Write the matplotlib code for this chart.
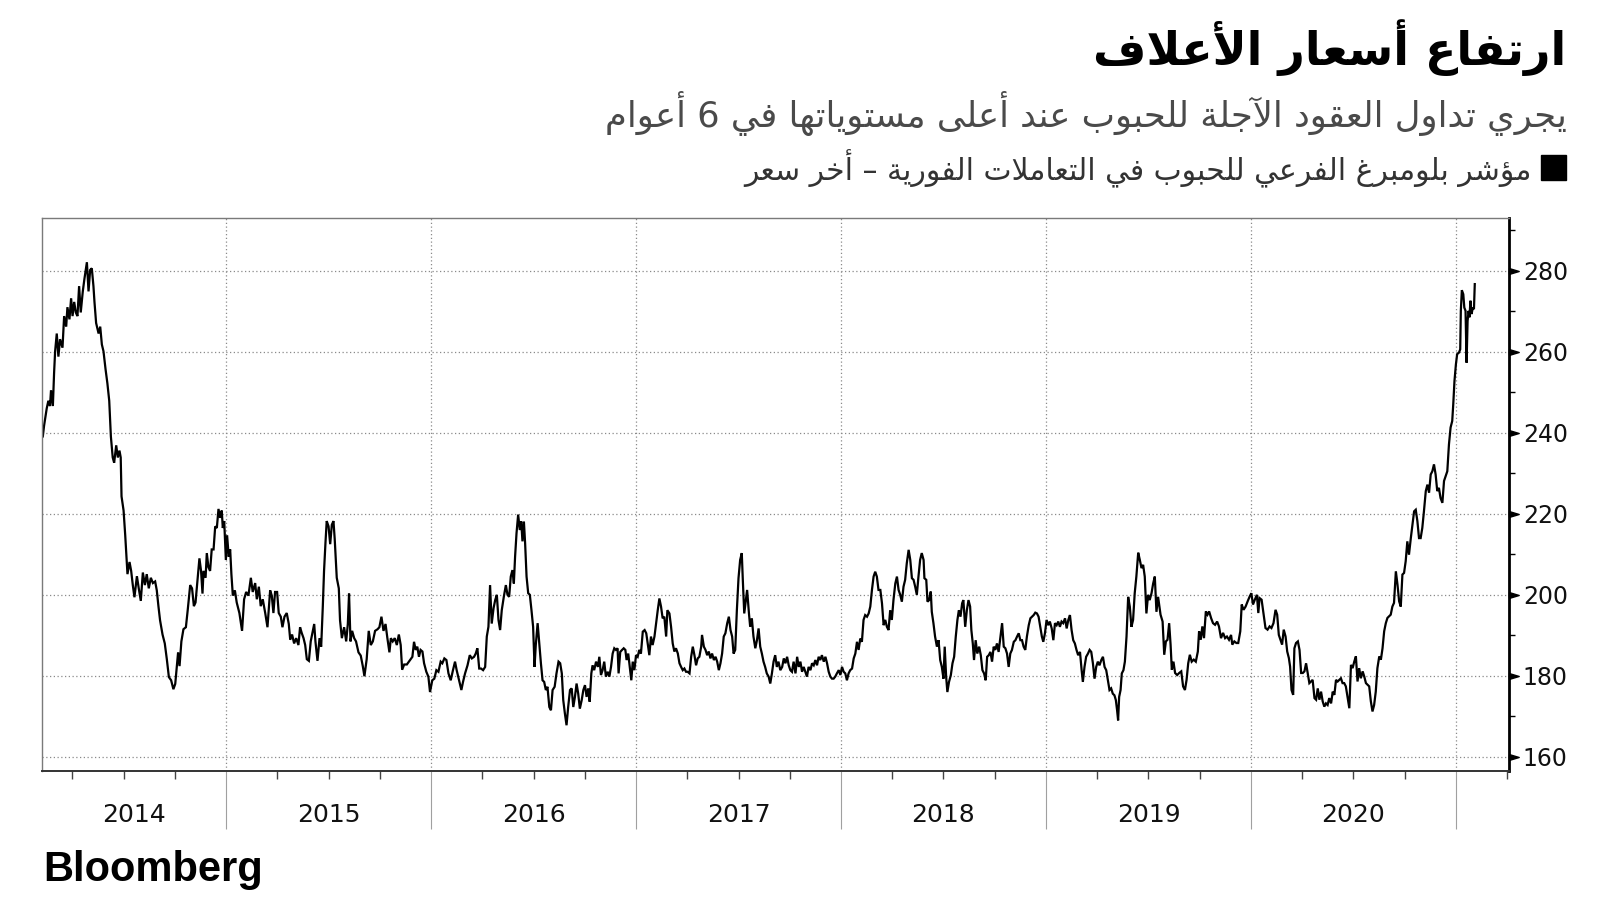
import numpy as np
import matplotlib
matplotlib.use('Agg')
import matplotlib.pyplot as plt
from matplotlib.patches import Rectangle
from matplotlib.ticker import MultipleLocator

plt.rcParams['font.family'] = ['DejaVu Sans']

# texts
title = 'ارتفاع أسعار الأعلاف'
subtitle = 'يجري تداول العقود الآجلة للحبوب عند أعلى مستوياتها في 6 أعوام'
legend_label = 'مؤشر بلومبرغ الفرعي للحبوب في التعاملات الفورية – أخر سعر'
source = 'Bloomberg'

year_labels = ['2014', '2015', '2016', '2017', '2018', '2019', '2020']
y_ticks = [160, 180, 200, 220, 240, 260, 280]

# Bloomberg grains spot subindex (decimal years)
dates = [
    2014.106, 2014.112, 2014.125, 2014.133, 2014.141, 2014.146, 2014.155, 2014.161, 2014.166, 2014.174,
    2014.182, 2014.190, 2014.202, 2014.210, 2014.220, 2014.226, 2014.236, 2014.244, 2014.251, 2014.259,
    2014.267, 2014.275, 2014.283, 2014.291, 2014.301, 2014.309, 2014.321, 2014.329, 2014.337, 2014.345,
    2014.353, 2014.358, 2014.366, 2014.378, 2014.386, 2014.394, 2014.402, 2014.412, 2014.421, 2014.430,
    2014.438, 2014.447, 2014.454, 2014.464, 2014.472, 2014.480, 2014.486, 2014.490, 2014.500, 2014.508,
    2014.519, 2014.529, 2014.537, 2014.545, 2014.553, 2014.565, 2014.574, 2014.584, 2014.594, 2014.604,
    2014.613, 2014.623, 2014.633, 2014.643, 2014.654, 2014.662, 2014.670, 2014.678, 2014.690, 2014.701,
    2014.711, 2014.721, 2014.732, 2014.743, 2014.752, 2014.760, 2014.766, 2014.773, 2014.782, 2014.792,
    2014.804, 2014.813, 2014.825, 2014.834, 2014.843, 2014.851, 2014.860, 2014.870, 2014.878, 2014.885,
    2014.890, 2014.900, 2014.906, 2014.914, 2014.922, 2014.930, 2014.939, 2014.947, 2014.955, 2014.963,
    2014.971, 2014.979, 2014.984, 2014.991, 2014.999, 2015.005, 2015.013, 2015.020, 2015.026, 2015.033,
    2015.043, 2015.052, 2015.065, 2015.078, 2015.088, 2015.098, 2015.109, 2015.121, 2015.130, 2015.142,
    2015.150, 2015.160, 2015.169, 2015.179, 2015.191, 2015.202, 2015.215, 2015.223, 2015.231, 2015.239,
    2015.249, 2015.257, 2015.267, 2015.275, 2015.285, 2015.296, 2015.306, 2015.313, 2015.322, 2015.332,
    2015.342, 2015.353, 2015.361, 2015.369, 2015.378, 2015.386, 2015.394, 2015.404, 2015.413, 2015.423,
    2015.430, 2015.436, 2015.446, 2015.456, 2015.464, 2015.472, 2015.478, 2015.485, 2015.491, 2015.500,
    2015.508, 2015.516, 2015.524, 2015.530, 2015.540, 2015.550, 2015.556, 2015.565, 2015.576, 2015.586,
    2015.594, 2015.600, 2015.607, 2015.615, 2015.625, 2015.634, 2015.646, 2015.657, 2015.667, 2015.675,
    2015.686, 2015.696, 2015.706, 2015.716, 2015.727, 2015.739, 2015.748, 2015.758, 2015.768, 2015.778,
    2015.787, 2015.797, 2015.804, 2015.813, 2015.823, 2015.833, 2015.843, 2015.852, 2015.859, 2015.869,
    2015.882, 2015.895,
    2015.909, 2015.917, 2015.925, 2015.933, 2015.941, 2015.949, 2015.958, 2015.966, 2015.977, 2015.987,
    2015.995, 2016.006, 2016.016, 2016.026, 2016.036, 2016.047, 2016.055, 2016.065, 2016.075, 2016.085,
    2016.096, 2016.107, 2016.117, 2016.125, 2016.137, 2016.148, 2016.156, 2016.166, 2016.178, 2016.189,
    2016.199, 2016.210, 2016.218, 2016.226, 2016.235, 2016.244, 2016.254, 2016.264, 2016.272, 2016.280,
    2016.288, 2016.296, 2016.305, 2016.313, 2016.321, 2016.329, 2016.337, 2016.345, 2016.355, 2016.365,
    2016.373, 2016.381, 2016.389, 2016.397, 2016.404, 2016.410, 2016.417, 2016.425, 2016.433, 2016.440,
    2016.446, 2016.453, 2016.459, 2016.466, 2016.474, 2016.482, 2016.490, 2016.498, 2016.505, 2016.511,
    2016.520, 2016.528, 2016.536, 2016.544, 2016.552, 2016.560, 2016.568, 2016.577, 2016.585, 2016.593,
    2016.603, 2016.612, 2016.622, 2016.630, 2016.638, 2016.645, 2016.653, 2016.661, 2016.669, 2016.678,
    2016.686, 2016.694, 2016.702, 2016.710, 2016.718, 2016.726, 2016.735, 2016.743, 2016.751, 2016.759,
    2016.767, 2016.774, 2016.782, 2016.788, 2016.796, 2016.805, 2016.814, 2016.821, 2016.829, 2016.837,
    2016.845, 2016.853, 2016.862, 2016.870, 2016.878, 2016.886, 2016.894, 2016.902, 2016.910, 2016.915,
    2016.923, 2016.932, 2016.940, 2016.948, 2016.954, 2016.962, 2016.971, 2016.977, 2016.984, 2016.992,
    2017.000, 2017.008, 2017.016, 2017.024, 2017.033, 2017.042, 2017.050, 2017.059, 2017.065, 2017.073,
    2017.081, 2017.090, 2017.098, 2017.106, 2017.114, 2017.122, 2017.130, 2017.138, 2017.147, 2017.153,
    2017.163, 2017.171, 2017.179, 2017.187, 2017.195, 2017.204, 2017.212, 2017.220, 2017.228, 2017.236,
    2017.244, 2017.252, 2017.261, 2017.269, 2017.277, 2017.285, 2017.293, 2017.301, 2017.309, 2017.318,
    2017.322, 2017.331, 2017.339, 2017.347, 2017.355, 2017.363, 2017.371, 2017.380, 2017.388, 2017.396,
    2017.404, 2017.412, 2017.420, 2017.428, 2017.436, 2017.445, 2017.453, 2017.461, 2017.469, 2017.476,
    2017.484, 2017.492, 2017.500, 2017.508, 2017.516, 2017.521, 2017.528, 2017.534, 2017.542, 2017.551,
    2017.557, 2017.565, 2017.573, 2017.582, 2017.590, 2017.598, 2017.606, 2017.614, 2017.622, 2017.630,
    2017.638, 2017.647, 2017.655, 2017.663, 2017.671, 2017.679, 2017.687, 2017.695, 2017.704,
    2017.713, 2017.721, 2017.729, 2017.737, 2017.745, 2017.753, 2017.761, 2017.769, 2017.778, 2017.786,
    2017.794, 2017.802, 2017.810, 2017.818, 2017.826, 2017.834, 2017.842, 2017.851, 2017.859, 2017.867,
    2017.875, 2017.883, 2017.891, 2017.899, 2017.907, 2017.916, 2017.924, 2017.932, 2017.940, 2017.948,
    2017.956, 2017.964, 2017.972, 2017.980, 2017.989, 2017.997, 2018.005, 2018.013, 2018.021, 2018.029,
    2018.037, 2018.045, 2018.054, 2018.062, 2018.070, 2018.078, 2018.086, 2018.094, 2018.102, 2018.110,
    2018.118, 2018.127, 2018.135, 2018.143, 2018.151, 2018.159, 2018.167, 2018.175, 2018.183, 2018.192,
    2018.200, 2018.208, 2018.216, 2018.224, 2018.232, 2018.240, 2018.248, 2018.256, 2018.265, 2018.273,
    2018.281, 2018.289, 2018.297, 2018.305, 2018.313, 2018.321, 2018.330, 2018.338, 2018.346, 2018.354,
    2018.362, 2018.370, 2018.378, 2018.386, 2018.394, 2018.403, 2018.407, 2018.416, 2018.422, 2018.430,
    2018.438, 2018.443, 2018.451, 2018.459, 2018.468, 2018.476, 2018.484, 2018.492, 2018.500, 2018.506,
    2018.513, 2018.519, 2018.527, 2018.536, 2018.544, 2018.552, 2018.560, 2018.568, 2018.575, 2018.583,
    2018.591, 2018.597, 2018.606, 2018.614, 2018.622, 2018.630, 2018.636, 2018.643, 2018.649, 2018.657,
    2018.665, 2018.674, 2018.682, 2018.690, 2018.698, 2018.706, 2018.713, 2018.721, 2018.729, 2018.737,
    2018.745, 2018.753, 2018.761, 2018.769, 2018.778, 2018.786, 2018.794, 2018.802, 2018.810, 2018.818,
    2018.826, 2018.834, 2018.843, 2018.851, 2018.859, 2018.867, 2018.875, 2018.883, 2018.891, 2018.899,
    2018.907, 2018.916, 2018.924, 2018.932, 2018.940, 2018.948, 2018.956, 2018.964, 2018.972, 2018.980,
    2018.987, 2018.995, 2019.003, 2019.011, 2019.019, 2019.028, 2019.036, 2019.044, 2019.052, 2019.060,
    2019.068, 2019.076, 2019.084, 2019.093, 2019.101, 2019.109, 2019.117, 2019.125, 2019.133, 2019.141,
    2019.149, 2019.157, 2019.166, 2019.174, 2019.180, 2019.188, 2019.196, 2019.205, 2019.213, 2019.221,
    2019.229, 2019.237, 2019.245, 2019.253, 2019.261, 2019.270, 2019.278, 2019.286, 2019.294, 2019.302,
    2019.310, 2019.318, 2019.326, 2019.334, 2019.341, 2019.347, 2019.352, 2019.357, 2019.364, 2019.370,
    2019.378, 2019.385, 2019.393, 2019.401, 2019.409, 2019.417, 2019.425, 2019.433, 2019.441, 2019.450,
    2019.458, 2019.466, 2019.474, 2019.482, 2019.490, 2019.498, 2019.506, 2019.515, 2019.523, 2019.531,
    2019.539, 2019.547,
    2019.559, 2019.569, 2019.577, 2019.585, 2019.593, 2019.601, 2019.608, 2019.614, 2019.622, 2019.630,
    2019.640, 2019.650, 2019.660, 2019.669, 2019.678, 2019.686, 2019.694, 2019.702, 2019.711, 2019.721,
    2019.731, 2019.741, 2019.747, 2019.755, 2019.763, 2019.771, 2019.780, 2019.788, 2019.796, 2019.806,
    2019.815, 2019.825, 2019.835, 2019.844, 2019.854, 2019.864, 2019.874, 2019.883, 2019.893, 2019.903,
    2019.909, 2019.919, 2019.929, 2019.938, 2019.948, 2019.955, 2019.964, 2019.974, 2019.984, 2019.994,
    2020.002, 2020.010, 2020.019, 2020.029, 2020.036, 2020.042, 2020.052, 2020.062, 2020.071, 2020.081,
    2020.091, 2020.100, 2020.110, 2020.120, 2020.128, 2020.136, 2020.144, 2020.152, 2020.160, 2020.169,
    2020.177, 2020.185, 2020.191, 2020.198, 2020.206, 2020.212, 2020.220, 2020.229, 2020.237, 2020.245,
    2020.253, 2020.261, 2020.269, 2020.277, 2020.285, 2020.293, 2020.301, 2020.310, 2020.318, 2020.326,
    2020.334, 2020.342, 2020.350, 2020.358, 2020.366, 2020.374, 2020.382, 2020.391, 2020.399, 2020.407,
    2020.415, 2020.423, 2020.431, 2020.439, 2020.447, 2020.455, 2020.463, 2020.472, 2020.480, 2020.488,
    2020.496, 2020.504, 2020.512, 2020.520, 2020.528, 2020.536, 2020.545, 2020.553, 2020.561, 2020.569,
    2020.577, 2020.585, 2020.593, 2020.601, 2020.609, 2020.617, 2020.626, 2020.634, 2020.642, 2020.650,
    2020.658, 2020.666, 2020.674, 2020.682, 2020.690, 2020.698, 2020.707, 2020.715, 2020.723, 2020.731,
    2020.739, 2020.747, 2020.755, 2020.763, 2020.771, 2020.780, 2020.788, 2020.796, 2020.804, 2020.812,
    2020.820, 2020.828, 2020.836, 2020.844, 2020.853, 2020.861, 2020.869, 2020.877, 2020.885, 2020.893,
    2020.901, 2020.909, 2020.917, 2020.925, 2020.934, 2020.942, 2020.950, 2020.958, 2020.966, 2020.974,
    2020.982, 2020.987, 2020.993, 2021.000, 2021.006, 2021.015, 2021.021, 2021.024, 2021.029, 2021.036,
    2021.041, 2021.047, 2021.052, 2021.057, 2021.062, 2021.066, 2021.071, 2021.076, 2021.083, 2021.088,
    2021.092,
]

values = [
    239.1, 241.7, 246.0, 247.9, 246.6, 250.5, 246.6, 254.8, 260.1, 264.5,
    258.8, 263.1, 261.0, 268.8, 266.2, 271.0, 268.0, 273.2, 268.8, 272.3,
    269.7, 268.8, 276.2, 269.7, 274.9, 278.0, 282.1, 274.9, 280.2, 280.6,
    276.2, 272.3, 267.1, 264.5, 266.2, 261.8, 260.1, 255.7, 252.2, 247.9,
    239.1, 233.9, 232.6, 236.9, 233.9, 235.6, 233.9, 224.3, 220.8, 214.7,
    205.1, 208.1, 205.9, 202.4, 199.4, 204.6, 201.6, 198.5, 205.5, 202.4,
    205.1, 201.6, 204.2, 202.9, 203.3, 201.1, 197.2, 193.7, 190.2, 188.0,
    184.1, 179.7, 178.9, 176.7, 178.0, 182.4, 185.8, 182.4, 188.5, 191.5,
    192.0, 196.3, 202.4, 201.6, 197.2, 198.1, 203.3, 209.0, 205.9, 200.3,
    205.9, 204.2, 210.3, 206.8, 205.9, 211.2, 211.2, 216.9, 216.5, 221.2,
    219.0, 220.8, 216.5, 218.2, 208.6, 214.7, 209.4, 211.2, 205.1, 199.8,
    201.1, 198.1, 195.5, 191.1, 198.9, 200.7, 199.8, 204.2, 200.7, 202.9,
    198.9, 202.0, 197.2, 198.9, 195.5, 192.0, 201.1, 199.8, 195.5, 200.7,
    200.7, 195.5, 194.6, 192.0, 194.6, 195.5, 192.8, 188.9, 190.2, 188.0,
    189.3, 187.6, 192.0, 190.6, 189.3, 187.6, 184.1, 183.7, 188.5, 191.1,
    192.8, 188.5, 183.7, 189.3, 187.2, 197.2, 205.9, 212.9, 218.2, 216.9,
    212.5, 217.3, 218.2, 213.8, 204.2, 201.6, 193.7, 189.3, 192.0, 188.5,
    192.8, 200.3, 188.5, 191.1, 189.3, 188.5, 185.8, 185.0, 182.4, 179.9,
    184.1, 191.1, 187.6, 188.5, 191.1, 191.5, 192.0, 194.6, 191.1, 192.8,
    189.3, 185.8, 189.3, 188.5, 189.3, 187.6, 190.2, 187.6, 181.5, 182.8,
    182.8, 183.7,
    184.7, 188.4, 186.4, 187.2, 184.7, 186.4, 186.0, 183.1, 181.0, 179.8,
    176.0, 178.9, 179.3, 181.4, 181.0, 183.5, 183.1, 184.3, 183.9, 180.6,
    178.9, 181.4, 183.5, 181.4, 178.9, 176.5, 178.5, 180.6, 182.6, 185.1,
    184.3, 184.7, 185.5, 186.8, 181.8, 181.8, 181.4, 182.2, 189.7, 192.1,
    202.4, 192.9, 196.7, 198.7, 200.0, 193.8, 191.3, 196.2, 199.5, 202.4,
    200.0, 199.5, 204.5, 206.1, 202.8, 209.4, 215.2, 219.8, 216.0, 218.1,
    213.2, 218.1, 212.7, 204.5, 200.4, 200.0, 196.2, 192.1, 182.2, 187.6,
    193.0, 188.0, 183.1, 178.9, 178.5, 176.5, 177.3, 172.3, 171.5, 176.5,
    177.3, 180.6, 183.5, 183.1, 180.6, 174.0, 170.7, 167.8, 172.3, 176.5,
    176.9, 172.3, 174.8, 178.1, 175.6, 171.9, 174.0, 176.5, 177.7, 174.8,
    176.9, 173.6, 180.6, 182.6, 181.4, 183.5, 182.2, 184.7, 180.2, 181.4,
    183.5, 179.8, 181.0, 179.8, 182.2, 185.5, 186.8, 186.4, 186.8, 180.6,
    185.9, 186.4, 186.8, 186.4, 183.9, 185.5, 181.4, 178.9, 183.5, 181.4,
    185.1, 184.7, 186.4, 185.5, 190.9, 191.3, 190.5, 187.2, 185.1, 189.7,
    187.6, 189.7, 193.0, 196.2, 199.1, 197.1, 194.2, 194.6, 189.7, 196.2,
    195.4, 192.1, 188.0, 186.0, 186.8, 185.5, 183.1, 182.2, 181.4, 181.8,
    181.0, 181.0, 180.6, 184.7, 187.2, 185.1, 182.6, 184.3, 184.7, 187.2,
    190.1, 187.2, 186.4, 185.1, 186.0, 184.3, 185.5, 183.9, 184.7, 183.5,
    181.4, 183.1, 185.5, 189.7, 190.5, 193.0, 194.6, 191.3, 189.7, 185.5,
    186.4, 196.2, 204.1, 208.6, 210.3, 203.7, 195.4, 197.9, 201.2, 195.4,
    192.1, 194.2, 189.7, 186.8, 188.8, 191.7, 187.2, 185.5, 183.5, 182.2,
    180.6, 179.8, 178.1, 180.6, 183.5, 185.1, 182.2, 183.5, 181.4,
    182.2, 184.3, 183.1, 184.7, 182.6, 181.4, 181.0, 183.5, 180.6, 184.7,
    182.2, 183.5, 181.0, 182.2, 181.0, 179.8, 182.2, 181.4, 183.1, 182.6,
    183.9, 182.6, 184.7, 183.9, 185.1, 183.5, 184.7, 183.1, 181.0, 179.8,
    179.3, 179.3, 179.8, 180.6, 181.4, 180.2, 182.2, 181.0, 180.6, 178.9,
    180.6, 181.4, 181.8, 184.3, 185.5, 188.4, 186.4, 189.2, 188.4, 193.8,
    195.0, 194.6, 195.4, 197.1, 201.2, 204.5, 205.7, 204.5, 201.2, 201.2,
    197.9, 192.5, 193.8, 192.1, 191.3, 196.2, 193.8, 198.7, 202.8, 204.5,
    201.2, 200.0, 198.3, 202.0, 203.7, 207.8, 211.1, 208.6, 204.1, 203.7,
    202.0, 200.0, 204.5, 208.6, 210.3, 208.6, 204.1, 203.7, 198.3, 198.7,
    200.8, 195.8, 193.0, 189.7, 187.2, 188.8, 183.9, 182.2, 179.3, 187.2,
    179.8, 176.0, 178.5, 180.2, 183.1, 184.7, 189.7, 193.8, 196.2, 194.6,
    197.9, 198.7, 192.1, 196.2, 198.7, 197.1, 191.3, 188.0, 183.9, 188.8,
    185.5, 187.2, 185.1, 181.4, 180.6, 178.9, 184.7, 185.1, 185.9, 183.5,
    187.2, 186.4, 188.0, 185.9, 189.7, 193.0, 187.2, 186.8, 185.5, 182.2,
    185.5, 186.4, 188.4, 188.8, 189.7, 190.5, 188.8, 188.8, 187.2, 186.4,
    189.7, 192.5, 194.2, 194.6, 195.0, 195.6, 195.4, 194.6, 192.1, 189.7,
    188.4, 190.5, 193.8, 192.5, 193.4, 191.7, 188.8, 193.0, 192.5, 193.4,
    192.1, 193.4, 193.0, 194.2, 191.7, 193.8, 195.0, 191.3, 188.8, 188.0,
    186.4, 185.1, 185.9, 181.4, 178.5, 182.2, 184.7, 185.5, 186.4, 185.9,
    183.1, 179.3, 182.2, 183.5, 182.6, 183.9, 184.7, 182.2, 181.4, 178.9,
    176.5, 176.9, 175.6, 175.2, 174.0, 171.5, 169.0, 174.8, 176.5, 180.6,
    181.4, 183.5, 189.7, 199.5, 197.1, 192.1, 193.8, 200.4, 204.5, 210.4,
    208.6, 206.6, 207.4, 204.5, 195.4, 200.0, 198.7, 200.4, 202.8, 204.5,
    195.8, 199.5,
    195.1, 193.4, 185.2, 188.5, 188.9, 193.0, 187.7, 181.5, 183.5, 180.7,
    180.2, 180.7, 181.1, 177.4, 176.5, 179.0, 183.1, 185.2, 183.5, 184.0,
    183.5, 186.0, 191.0, 188.9, 192.2, 189.3, 195.9, 195.1, 195.9, 194.2,
    193.0, 192.6, 193.4, 192.2, 189.3, 190.6, 189.3, 189.7, 188.9, 190.1,
    187.7, 188.5, 188.1, 188.1, 191.0, 197.6, 196.3, 197.1, 198.4, 199.6,
    200.4, 197.6, 198.8, 200.0, 195.5, 199.2, 198.8, 195.1, 191.8, 191.4,
    192.2, 191.8, 193.0, 196.3, 195.1, 190.1, 188.9, 187.7, 191.4, 189.7,
    186.0, 184.4, 182.3, 176.5, 175.3, 186.8, 188.1, 188.5, 186.4, 180.7,
    180.7, 181.1, 183.1, 180.7, 178.2, 178.6, 179.0, 174.5, 174.1, 176.9,
    174.1, 176.1, 173.7, 172.4, 173.2, 172.8, 174.5, 173.2, 176.1, 175.3,
    179.0, 178.6, 179.0, 179.4, 178.2, 178.2, 177.4, 174.5, 172.0, 182.7,
    181.9, 183.5, 184.8, 178.6, 181.9, 179.4, 181.1, 179.8, 178.2, 177.8,
    177.4, 173.7, 171.2, 172.8, 176.1, 181.9, 184.8, 184.0, 186.8, 191.0,
    193.0, 194.3, 194.7, 195.1, 197.1, 198.0, 205.8, 202.5, 198.4, 197.1,
    205.0, 205.4, 208.3, 213.2, 209.9, 214.0, 217.3, 220.6, 221.0, 218.2,
    214.0, 214.0, 216.5, 220.6, 225.6, 227.2, 225.2, 229.7, 230.5, 232.2,
    229.7, 225.6, 226.4, 223.9, 222.7, 228.1, 229.3, 230.5, 237.1, 241.3,
    242.9, 247.0, 252.8, 256.9, 259.4, 259.8, 260.6, 270.1, 275.2, 274.2,
    270.9, 270.1, 257.3, 267.6, 270.1, 268.5, 272.6, 269.3, 270.9, 270.5,
    276.7,
]

# ---- minimal Arabic shaping (presentation forms + right-to-left order) ----
_forms = [('ء', 0xFE80, 1), ('آ', 0xFE81, 2), ('أ', 0xFE83, 2), ('ؤ', 0xFE85, 2),
          ('إ', 0xFE87, 2), ('ئ', 0xFE89, 4), ('ا', 0xFE8D, 2), ('ب', 0xFE8F, 4),
          ('ة', 0xFE93, 2), ('ت', 0xFE95, 4), ('ث', 0xFE99, 4), ('ج', 0xFE9D, 4),
          ('ح', 0xFEA1, 4), ('خ', 0xFEA5, 4), ('د', 0xFEA9, 2), ('ذ', 0xFEAB, 2),
          ('ر', 0xFEAD, 2), ('ز', 0xFEAF, 2), ('س', 0xFEB1, 4), ('ش', 0xFEB5, 4),
          ('ص', 0xFEB9, 4), ('ض', 0xFEBD, 4), ('ط', 0xFEC1, 4), ('ظ', 0xFEC5, 4),
          ('ع', 0xFEC9, 4), ('غ', 0xFECD, 4), ('ف', 0xFED1, 4), ('ق', 0xFED5, 4),
          ('ك', 0xFED9, 4), ('ل', 0xFEDD, 4), ('م', 0xFEE1, 4), ('ن', 0xFEE5, 4),
          ('ه', 0xFEE9, 4), ('و', 0xFEED, 2), ('ى', 0xFEEF, 2), ('ي', 0xFEF1, 4)]
FORMS = {c: (base, n) for c, base, n in _forms}
LAM_ALEF = {'آ': 0xFEF5, 'أ': 0xFEF7, 'إ': 0xFEF9, 'ا': 0xFEFB}


def shape(text):
    tokens = []
    i = 0
    while i < len(text):
        if text[i] == 'ل' and i + 1 < len(text) and text[i + 1] in LAM_ALEF:
            tokens.append(('LA', text[i + 1]))
            i += 2
        else:
            tokens.append(('C', text[i]))
            i += 1

    def joins(tok):
        if tok[0] == 'LA':
            return 2
        return FORMS.get(tok[1], (0, 0))[1]

    out = []
    for k, tok in enumerate(tokens):
        n = joins(tok)
        if n == 0:
            out.append(tok[1])
            continue
        prev_n = joins(tokens[k - 1]) if k > 0 else 0
        next_n = joins(tokens[k + 1]) if k + 1 < len(tokens) else 0
        jp = prev_n == 4 and n >= 2
        jn = n == 4 and next_n >= 2
        if tok[0] == 'LA':
            out.append(chr(LAM_ALEF[tok[1]] + (1 if jp else 0)))
            continue
        base = FORMS[tok[1]][0]
        if jp and jn:
            off = 3
        elif jp:
            off = 1
        elif jn:
            off = 2
        else:
            off = 0
        out.append(chr(base + off))
    return ''.join(reversed(out))


fig = plt.figure(figsize=(16, 9), dpi=100)
ax = fig.add_axes([0.02625, 0.1433, 0.916875, 0.6144])

ax.plot(dates, values, color='black', lw=1.6, solid_joinstyle='miter')

x_min, x_max = 2014.102, 2021.259
ax.set_xlim(x_min, x_max)
ax.set_ylim(156.5, 293)

# x axis: year boundaries and quarter ticks
ax.xaxis.set_major_locator(MultipleLocator(1))
ax.xaxis.set_minor_locator(MultipleLocator(0.25))
ax.tick_params(axis='x', which='major', direction='out', length=42, width=0.8,
               color='#a0a0a0', labelbottom=False)
ax.tick_params(axis='x', which='minor', direction='out', length=6, width=1.0,
               color='#444444')
for lab in year_labels:
    y0 = int(lab)
    lo, hi = max(y0, x_min), min(y0 + 1, x_max)
    ax.text((lo + hi) / 2, -0.08, lab, transform=ax.get_xaxis_transform(),
            ha='center', va='center', fontsize=18, color='#111111')

# y axis on the right
ax.yaxis.tick_right()
ax.set_yticks(y_ticks)
ax.yaxis.set_minor_locator(MultipleLocator(10))
ax.tick_params(axis='y', which='major', length=0, pad=10, labelsize=17,
               labelcolor='#111111')
ax.tick_params(axis='y', which='minor', direction='out', length=4, width=1,
               color='black')
tri = [(0, -0.3), (1, 0), (0, 0.3), (0, -0.3)]
ax.plot([1] * len(y_ticks), y_ticks, transform=ax.get_yaxis_transform(),
        ls='none', marker=tri, ms=14, color='black', clip_on=False)

ax.grid(axis='both', which='major', linestyle=(0, (1, 2)), color='#8a8a8a', lw=0.9)

for side in ['left', 'top']:
    ax.spines[side].set_color('#7a7a7a')
    ax.spines[side].set_linewidth(1.0)
ax.spines['bottom'].set_color('#333333')
ax.spines['bottom'].set_linewidth(1.4)
ax.spines['right'].set_color('black')
ax.spines['right'].set_linewidth(2.0)

# header
fig.text(0.979, 0.947, shape(title), ha='right', va='center', fontsize=33,
         fontweight='bold', color='black')
fig.text(0.979, 0.874, shape(subtitle), ha='right', va='center', fontsize=25.5,
         color='#4a4a4a')
fig.patches.append(Rectangle((1541 / 1600, 1 - 180 / 900), 25 / 1600, 25 / 900,
                             transform=fig.transFigure, color='black'))
fig.text(0.957, 0.813, shape(legend_label), ha='right', va='center', fontsize=21.5,
         color='#333333')
fig.text(0.027, 0.033, source, ha='left', va='center', fontsize=30,
         fontweight='bold', family='Liberation Sans', color='black')

fig.savefig('out.png', dpi=100)
